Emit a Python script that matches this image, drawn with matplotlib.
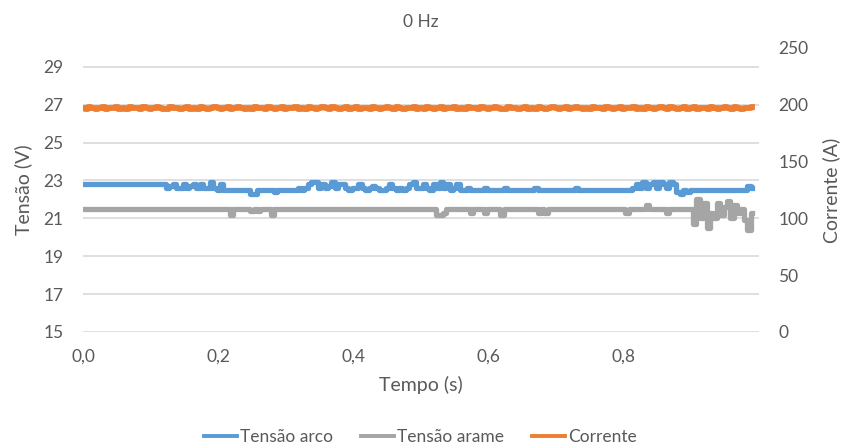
import numpy as np
import matplotlib
matplotlib.use("Agg")
import matplotlib.pyplot as plt

plt.rcParams['font.family'] = ['Lato', 'DejaVu Sans']

# Amostragem a cada 0,005 s
dt = 0.005

tensao_arco = ([22.8] * 25 +
               [22.6, 22.7, 22.8, 22.6, 22.6, 22.8, 22.6, 22.7, 22.8, 22.6, 22.8, 22.6, 22.6, 22.9, 22.6, 22.5, 22.8] +
               [22.5, 22.5, 22.5, 22.5, 22.5, 22.5, 22.5, 22.5, 22.3, 22.3, 22.5, 22.5, 22.5, 22.5, 22.5, 22.4,
                22.5, 22.5, 22.5, 22.5, 22.5, 22.5, 22.6, 22.5] +
               [22.6, 22.8, 22.9, 22.9, 22.6, 22.8, 22.6, 22.7, 22.9, 22.6, 22.8, 22.8, 22.6, 22.5, 22.6, 22.6,
                22.8, 22.6, 22.5, 22.6, 22.7, 22.6, 22.5, 22.5, 22.6, 22.8, 22.6, 22.5, 22.6, 22.5, 22.6, 22.8,
                22.9, 22.6, 22.6, 22.8, 22.6, 22.5, 22.8, 22.6] +
               [22.9, 22.6, 22.8, 22.5, 22.6, 22.8, 22.5, 22.5, 22.6, 22.5, 22.5, 22.5, 22.5, 22.6, 22.5, 22.5,
                22.5, 22.5, 22.5, 22.6, 22.5, 22.5, 22.5, 22.5, 22.5, 22.5, 22.5, 22.5, 22.6, 22.5, 22.5, 22.5,
                22.5, 22.5, 22.5, 22.5, 22.5, 22.5, 22.5, 22.5, 22.6, 22.5, 22.5, 22.5, 22.5, 22.5, 22.5, 22.5,
                22.5, 22.5, 22.5, 22.5, 22.5, 22.5, 22.5, 22.5, 22.5, 22.6] +
               [22.8, 22.6, 22.9, 22.6, 22.8, 22.9, 22.6, 22.9, 22.8, 22.6, 22.9, 22.8] +
               [22.4, 22.3, 22.5, 22.4, 22.5, 22.5, 22.5, 22.5, 22.5, 22.5, 22.5, 22.5, 22.5, 22.5, 22.5, 22.5,
                22.5, 22.5, 22.5, 22.5, 22.5, 22.7, 22.6])

tensao_arame = ([21.5] * 44 + [21.2] + [21.5] * 5 + [21.4, 21.5, 21.4] + [21.5] * 3 + [21.2] +
                [21.5] * 48 + [21.2, 21.2, 21.3] + [21.5] * 7 + [21.3] + [21.5] * 3 + [21.3] +
                [21.5] * 4 + [21.2] + [21.5] * 10 + [21.3, 21.5, 21.3] + [21.5] * 23 + [21.3] +
                [21.5] * 5 + [21.7] + [21.5] * 5 + [21.3] + [21.5] * 6 +
                [21.5, 20.7, 22.0, 21.0, 21.8, 20.5, 21.3, 21.0, 21.8, 21.2, 21.6, 21.9, 21.0, 21.7, 21.3,
                 21.5, 20.9, 20.4, 21.3])

corrente = [197, 196, 198, 197, 196, 197, 198, 196, 197, 197, 198, 196, 197, 196, 198, 197, 197, 196, 198, 197,
            196, 197, 198, 197, 196, 196, 198, 197, 197, 196, 197, 198, 196, 197, 196, 198, 197, 196, 197, 198,
            197, 196, 197, 198, 196, 197, 198, 197, 196, 197, 196, 198, 197, 197, 196, 198, 197, 196, 197, 198,
            196, 197, 197, 198, 196, 197, 196, 198, 197, 196, 197, 198, 197, 196, 198, 197, 196, 197, 198, 196,
            197, 198, 196, 197, 197, 196, 198, 197, 196, 197, 198, 197, 196, 198, 197, 196, 197, 197, 198, 196,
            197, 196, 198, 197, 196, 197, 198, 196, 197, 197, 198, 196, 197, 196, 198, 197, 197, 196, 198, 197,
            196, 197, 198, 197, 196, 196, 198, 197, 197, 196, 197, 198, 196, 197, 196, 198, 197, 196, 197, 198,
            197, 196, 197, 198, 196, 197, 198, 197, 196, 197, 196, 198, 197, 197, 196, 198, 197, 196, 197, 198,
            196, 197, 197, 198, 196, 197, 196, 198, 197, 196, 197, 198, 197, 196, 198, 197, 196, 197, 198, 196,
            197, 198, 196, 197, 197, 196, 198, 197, 196, 197, 198, 197, 196, 198, 197, 196, 197, 197, 198]

tempo = np.arange(len(tensao_arco)) * dt

azul = '#5B9BD5'
cinza = '#A5A5A5'
laranja = '#ED7D31'
texto = '#595959'

fig = plt.figure(figsize=(8.41, 4.48), dpi=100)
ax = fig.add_axes([0.0987, 0.259, 0.8038, 0.634])
ax2 = ax.twinx()

l1, = ax.plot(tempo, tensao_arco, color=azul, lw=3.8, drawstyle='steps-mid', label='Tensão arco')
l2, = ax.plot(tempo, tensao_arame, color=cinza, lw=3.8, drawstyle='steps-mid', label='Tensão arame')
l3, = ax2.plot(tempo[:len(corrente)], corrente, color=laranja, lw=4.2, drawstyle='steps-mid', label='Corrente')

ax.set_xlim(0, 1.0)
ax.set_ylim(15, 30)
ax.set_yticks([15, 17, 19, 21, 23, 25, 27, 29])
ax2.set_ylim(0, 250)
ax2.set_yticks([0, 50, 100, 150, 200, 250])
ax.set_xticks([0, 0.2, 0.4, 0.6, 0.8])
ax.set_xticklabels(['0,0', '0,2', '0,4', '0,6', '0,8'])

ax.grid(axis='y', color='#D9D9D9', lw=1.2)
ax.set_axisbelow(True)
for a in (ax, ax2):
    for s in a.spines.values():
        s.set_visible(False)
    a.tick_params(length=0, colors=texto, labelsize=12.5)
ax.tick_params(axis='y', pad=14)
ax.tick_params(axis='x', pad=12)
ax2.tick_params(axis='y', pad=14)

ax.set_ylabel('Tensão (V)', fontsize=14, color=texto, labelpad=8)
ax2.set_ylabel('Corrente (A)', fontsize=14, color=texto, labelpad=10)
ax.set_xlabel('Tempo (s)', fontsize=14, color=texto, labelpad=8)
fig.text(0.5, 0.95, '0 Hz', ha='center', va='center', fontsize=12.5, color=texto)

leg = fig.legend(handles=[l1, l2, l3], loc='center', bbox_to_anchor=(0.5, 0.025), ncol=3,
                 frameon=False, fontsize=12.5, labelcolor=texto, handlelength=1.9,
                 handletextpad=0.2, columnspacing=1.6)
for h in leg.legend_handles:
    h.set_linewidth(2.8)

fig.savefig('out.png', dpi=100)
